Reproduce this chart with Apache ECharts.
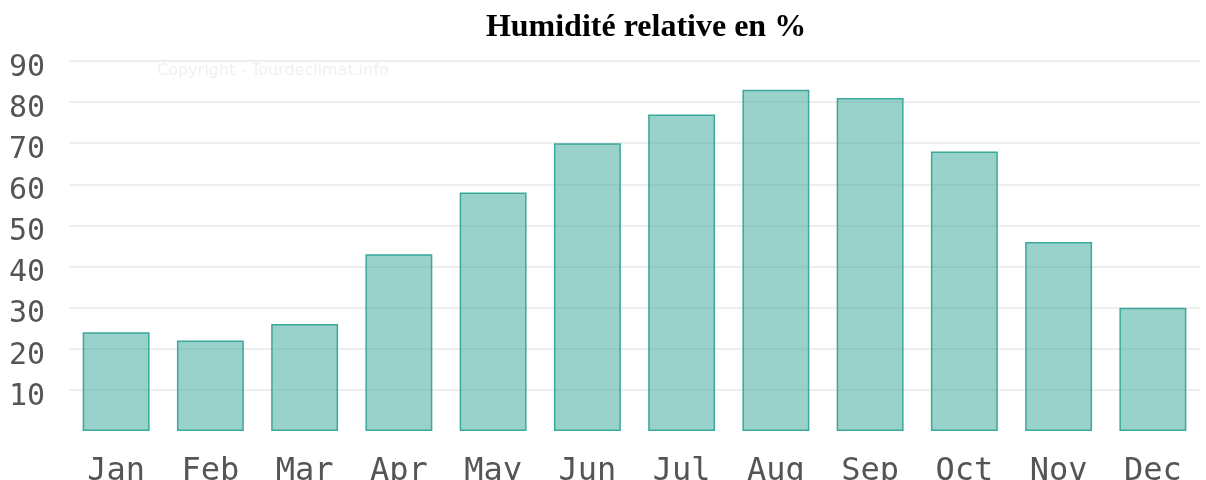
<!DOCTYPE html>
<html>
<head>
<meta charset="utf-8">
<script src="https://cdn.jsdelivr.net/npm/echarts@6/dist/echarts.min.js"></script>
<style>
  html, body { margin: 0; padding: 0; background: #fff; }
  #chart { width: 1206px; height: 480px; }
</style>
</head>
<body>
<div id="chart"></div>
<script>
// data
const months = ['Jan', 'Feb', 'Mar', 'Apr', 'May', 'Jun', 'Jul', 'Aug', 'Sep', 'Oct', 'Nov', 'Dec'];
const humidity = [24, 22, 26, 43, 58, 70, 77, 83, 81, 68, 46, 30];
const yTicks = [0, 10, 20, 30, 40, 50, 60, 70, 80, 90];

const chart = echarts.init(document.getElementById('chart'));

// pas de ligne à zéro
const gridColors = yTicks.map(v => (v === 0 ? 'rgba(0,0,0,0)' : '#e8e8e8'));

const option = {
    animation: false,
    title: {
        text: 'Humidité relative en %',
        left: 641,
        top: 7,
        textAlign: 'center',
        textStyle: {
            fontFamily: 'Liberation Serif',
            fontWeight: 'bold',
            fontSize: 32,
            color: '#000'
        }
    },
    graphic: [{
        type: 'text',
        left: 157,
        top: 63,
        style: {
            text: 'Copyright - Tourdeclimat.info',
            font: '16px DejaVu Sans',
            fill: '#f0f0f0'
        }
    }],
    grid: { left: 69, right: 6, top: 61, bottom: 49, outerBoundsMode: 'none' },
    xAxis: {
        type: 'category',
        data: months,
        axisLine: { show: false },
        axisTick: { show: false },
        axisLabel: {
            fontFamily: 'DejaVu Sans Mono',
            fontSize: 32,
            color: '#555',
            margin: 25
        }
    },
    yAxis: {
        type: 'value',
        min: yTicks[0],
        max: yTicks[yTicks.length - 1],
        interval: 10,
        axisLine: { show: false },
        axisTick: { show: false },
        axisLabel: {
            fontFamily: 'DejaVu Sans Mono',
            fontSize: 30,
            color: '#555',
            margin: 24,
            verticalAlign: 'top',
            lineHeight: 14,
            formatter: v => (v === 0 ? '' : v)
        },
        splitLine: { lineStyle: { color: gridColors, width: 1.5 } }
    },
    series: [{
        type: 'bar',
        data: humidity,
        barCategoryGap: '29%',
        itemStyle: {
            color: 'rgba(52,166,152,0.5)',
            borderColor: '#3aa99b',
            borderWidth: 1.5
        }
    }]
};

chart.setOption(option);
</script>
</body>
</html>
